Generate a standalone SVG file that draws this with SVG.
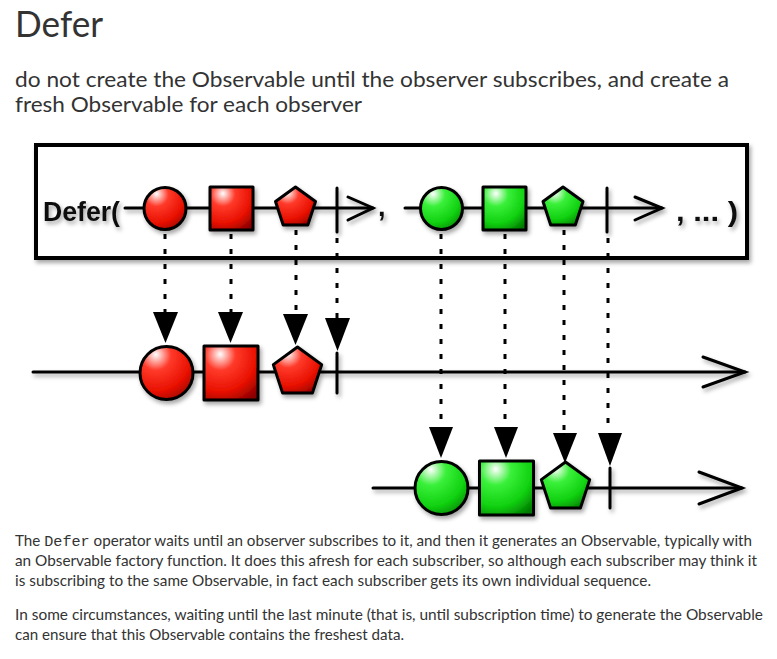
<svg xmlns="http://www.w3.org/2000/svg" width="777" height="659" viewBox="0 0 777 659">
<style>
.t{font-family:"Lato","Open Sans","Noto Sans",sans-serif;fill:#333}
.h{font-family:"Liberation Sans",Arial,sans-serif;font-weight:bold;fill:#111}
.ax{stroke:#000;stroke-width:3;fill:none;stroke-linecap:round}
.sh{stroke:#000;stroke-width:3;stroke-linejoin:round}
.red{fill:url(#gr)}
.grn{fill:url(#gg)}
.dash{stroke:#000;stroke-width:3;stroke-dasharray:5 10;fill:none}
.tri{fill:#000}
.mono{font-family:"Liberation Mono","DejaVu Sans Mono",monospace;font-weight:normal}
</style>
<defs>
<radialGradient id="gr" cx="0.3" cy="0.2" r="0.95" fx="0.3" fy="0.15">
<stop offset="0" stop-color="#ffffff"/>
<stop offset="0.3" stop-color="#ff3a2a"/>
<stop offset="0.7" stop-color="#e81000"/>
<stop offset="1" stop-color="#8a0000"/>
</radialGradient>
<radialGradient id="gg" cx="0.3" cy="0.2" r="0.95" fx="0.3" fy="0.15">
<stop offset="0" stop-color="#ffffff"/>
<stop offset="0.3" stop-color="#3af03a"/>
<stop offset="0.7" stop-color="#10d010"/>
<stop offset="1" stop-color="#007a00"/>
</radialGradient>
<filter id="ds" x="-20%" y="-20%" width="140%" height="160%">
<feDropShadow dx="2" dy="3" stdDeviation="2" flood-color="#000" flood-opacity="0.35"/>
</filter>
</defs>
<rect width="777" height="659" fill="#fff"/>

<g id="heading">
<text class="t" x="15" y="37" font-size="36" textLength="88" lengthAdjust="spacingAndGlyphs">Defer</text>
<text class="t" x="15" y="87" font-size="21" textLength="714" lengthAdjust="spacingAndGlyphs">do not create the Observable until the observer subscribes, and create a</text>
<text class="t" x="15" y="112" font-size="21" textLength="347" lengthAdjust="spacingAndGlyphs">fresh Observable for each observer</text>
</g>

<g id="defer-box" filter="url(#ds)">
<rect x="36" y="145" width="711" height="113" fill="#fff" stroke="#000" stroke-width="4"/>
</g>

<g id="top-red" filter="url(#ds)">
<text class="h" x="43" y="221" font-size="27" textLength="77" lengthAdjust="spacingAndGlyphs">Defer(</text>
<line class="ax" x1="125" y1="208" x2="373" y2="208"/>
<polyline class="ax" points="348,197 373,208 348,220"/>
<line class="ax" x1="337" y1="188" x2="337" y2="232"/>
<circle class="sh red" cx="165" cy="208.5" r="21"/>
<rect class="sh red" x="210" y="187" width="43" height="43"/>
<polygon class="sh red" points="295.5,187 315.5,201.5 307.8,225 283.2,225 275.5,201.5"/>
<text class="h" x="378" y="216" font-size="27">,</text>
</g>

<g id="top-green" filter="url(#ds)">
<line class="ax" x1="405" y1="208" x2="662" y2="208"/>
<polyline class="ax" points="635,197 662,208 635,220"/>
<line class="ax" x1="607" y1="188" x2="607" y2="232"/>
<circle class="sh grn" cx="441.5" cy="208.5" r="21"/>
<rect class="sh grn" x="483" y="187" width="43" height="43"/>
<polygon class="sh grn" points="563,187 583,201.5 575.3,225 550.7,225 543,201.5"/>
<text class="h" x="676" y="221" font-size="27" textLength="62" lengthAdjust="spacingAndGlyphs">, ... )</text>
</g>

<g id="middle-row" filter="url(#ds)">
<line class="ax" x1="33" y1="372" x2="745" y2="372"/>
<polyline class="ax" points="703,357 745,372 703,387"/>
<line class="ax" x1="337" y1="353" x2="337" y2="393"/>
<circle class="sh red" cx="166.5" cy="373" r="26.5"/>
<rect class="sh red" x="204" y="346" width="54" height="54"/>
<polygon class="sh red" points="297.5,347 321.7,364.6 312.4,393.1 282.6,393.1 273.3,364.6"/>
</g>

<g id="bottom-row" filter="url(#ds)">
<line class="ax" x1="373" y1="488" x2="742" y2="488"/>
<polyline class="ax" points="699,472 742,488 699,504"/>
<line class="ax" x1="610" y1="468" x2="610" y2="508"/>
<circle class="sh grn" cx="441.5" cy="488" r="26.5"/>
<rect class="sh grn" x="479.5" y="461" width="54" height="54"/>
<polygon class="sh grn" points="565.5,462 589.7,479.6 580.4,508.1 550.6,508.1 541.3,479.6"/>
</g>

<g id="connectors">
<line class="dash" x1="165" y1="234" x2="165" y2="312"/>
<line class="dash" x1="231" y1="234" x2="231" y2="312"/>
<line class="dash" x1="296" y1="230" x2="296" y2="314"/>
<line class="dash" x1="337" y1="238" x2="337" y2="318"/>
<polygon class="tri" points="153,312 178,312 165.5,343"/>
<polygon class="tri" points="218,312 243,312 230.5,343"/>
<polygon class="tri" points="283,314 308,314 295.5,345"/>
<polygon class="tri" points="325,318 350,318 337.5,351"/>
<line class="dash" x1="441" y1="234" x2="441" y2="427"/>
<line class="dash" x1="505" y1="234" x2="505" y2="427"/>
<line class="dash" x1="564" y1="230" x2="564" y2="433"/>
<line class="dash" x1="608" y1="238" x2="608" y2="433"/>
<polygon class="tri" points="429,427 453,427 441,458"/>
<polygon class="tri" points="494,427 518,427 506,458"/>
<polygon class="tri" points="553,433 577,433 565,463"/>
<polygon class="tri" points="598,433 622,433 610,466"/>
</g>

<g id="description">
<text class="t" x="15" y="546" font-size="15" textLength="737" lengthAdjust="spacingAndGlyphs">The <tspan class="mono">Defer</tspan> operator waits until an observer subscribes to it, and then it generates an Observable, typically with</text>
<text class="t" x="15" y="566" font-size="15" textLength="742" lengthAdjust="spacingAndGlyphs">an Observable factory function. It does this afresh for each subscriber, so although each subscriber may think it</text>
<text class="t" x="15" y="586" font-size="15" textLength="636" lengthAdjust="spacingAndGlyphs">is subscribing to the same Observable, in fact each subscriber gets its own individual sequence.</text>
<text class="t" x="15" y="619.5" font-size="15" textLength="748" lengthAdjust="spacingAndGlyphs">In some circumstances, waiting until the last minute (that is, until subscription time) to generate the Observable</text>
<text class="t" x="15" y="640" font-size="15" textLength="389" lengthAdjust="spacingAndGlyphs">can ensure that this Observable contains the freshest data.</text>
</g>
</svg>
